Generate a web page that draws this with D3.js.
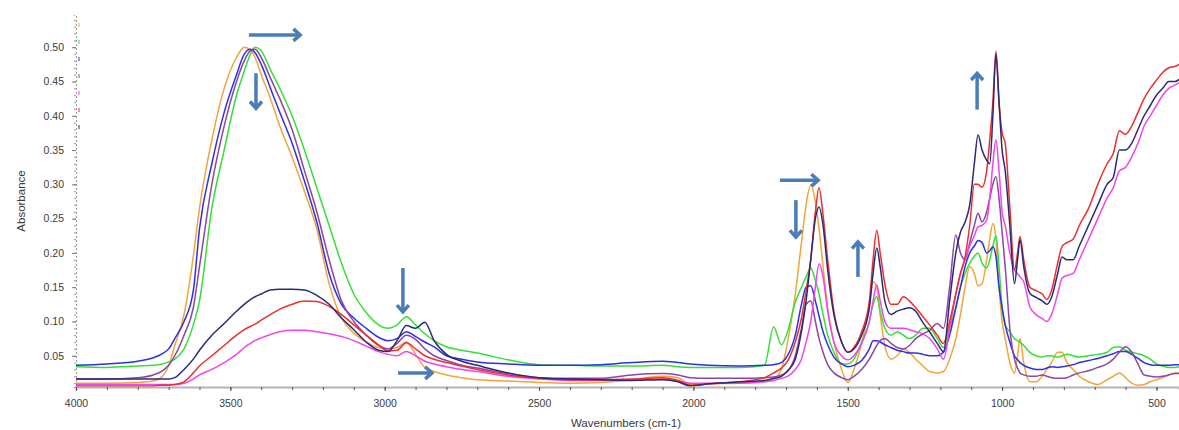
<!DOCTYPE html>
<html><head><meta charset="utf-8">
<script src="https://cdn.jsdelivr.net/npm/d3@7"></script>
<style>
body{margin:0;background:#fff}
svg{display:block}
text{font-family:"Liberation Sans",Arial,sans-serif}
</style>
</head><body>
<svg id="chart" width="1179" height="430"></svg>
<script>
// ---- data ----
const wavenumbers = [
 4000,3900,3800,3750,3720,3700,3680,3650,3620,3600,
 3560,3520,3480,3455,3435,3420,3400,3370,3340,3300,
 3260,3220,3180,3140,3100,3060,3020,2990,2960,2930,
 2900,2870,2840,2800,2750,2700,2600,2500,2400,2300,
 2200,2100,2050,2010,1950,1850,1770,1740,1715,1695,
 1670,1650,1635,1620,1605,1593,1580,1565,1545,1520,
 1500,1480,1455,1430,1418,1406,1395,1380,1360,1340,
 1320,1300,1280,1256,1235,1210,1190,1170,1150,1135,
 1120,1105,1090,1078,1065,1050,1040,1030,1020,1010,
 1000,990,975,960,950,942,930,910,890,870,
 855,840,820,806,790,770,750,720,690,660,
 640,620,600,580,560,540,520,500,480,460,
 440,427];

const orangeSeries = [
 0.010,0.010,0.011,0.013,0.020,0.035,0.065,0.110,0.195,0.265,
 0.365,0.440,0.485,0.500,0.496,0.485,0.460,0.425,0.385,0.340,
 0.290,0.235,0.155,0.105,0.083,0.070,0.062,0.060,0.062,0.070,
 0.052,0.033,0.027,0.022,0.018,0.015,0.013,0.011,0.010,0.011,
 0.015,0.020,0.018,0.008,0.009,0.010,0.012,0.016,0.030,0.070,
 0.140,0.215,0.270,0.299,0.275,0.235,0.180,0.120,0.070,0.030,
 0.011,0.030,0.068,0.125,0.158,0.150,0.110,0.065,0.045,0.050,
 0.060,0.055,0.045,0.035,0.027,0.025,0.027,0.045,0.075,0.110,
 0.150,0.180,0.170,0.152,0.155,0.190,0.220,0.243,0.220,0.150,
 0.100,0.075,0.040,0.025,0.050,0.075,0.040,0.012,0.012,0.020,
 0.030,0.040,0.055,0.055,0.040,0.030,0.020,0.012,0.008,0.015,
 0.020,0.025,0.018,0.010,0.007,0.008,0.012,0.015,0.018,0.022,
 0.025,0.025];

const greenSeries = [
 0.034,0.033,0.035,0.036,0.038,0.041,0.045,0.060,0.095,0.130,
 0.265,0.350,0.430,0.465,0.490,0.500,0.495,0.467,0.440,0.400,
 0.350,0.295,0.240,0.185,0.140,0.113,0.095,0.090,0.095,0.107,
 0.095,0.082,0.072,0.063,0.058,0.054,0.044,0.037,0.036,0.035,
 0.035,0.036,0.034,0.033,0.033,0.033,0.036,0.092,0.066,0.085,
 0.128,0.150,0.165,0.178,0.160,0.140,0.110,0.080,0.055,0.038,
 0.038,0.045,0.070,0.100,0.125,0.136,0.115,0.090,0.080,0.085,
 0.080,0.075,0.080,0.090,0.090,0.075,0.062,0.090,0.120,0.150,
 0.170,0.185,0.195,0.200,0.185,0.178,0.190,0.210,0.225,0.180,
 0.120,0.095,0.085,0.075,0.072,0.070,0.065,0.055,0.050,0.048,
 0.050,0.050,0.048,0.050,0.052,0.050,0.048,0.050,0.052,0.055,
 0.062,0.063,0.058,0.055,0.053,0.050,0.045,0.038,0.035,0.033,
 0.033,0.034];

const blueSeries = [
 0.036,0.038,0.042,0.047,0.053,0.060,0.075,0.100,0.145,0.235,
 0.330,0.405,0.460,0.490,0.497,0.492,0.475,0.440,0.405,0.360,
 0.305,0.245,0.170,0.125,0.105,0.090,0.077,0.072,0.075,0.085,
 0.078,0.070,0.063,0.050,0.045,0.041,0.038,0.036,0.036,0.037,
 0.040,0.042,0.040,0.038,0.036,0.035,0.036,0.037,0.040,0.050,
 0.080,0.125,0.150,0.152,0.130,0.108,0.085,0.066,0.048,0.038,
 0.034,0.036,0.043,0.060,0.072,0.072,0.070,0.066,0.062,0.058,
 0.056,0.054,0.054,0.052,0.050,0.050,0.055,0.080,0.120,0.150,
 0.180,0.200,0.210,0.218,0.215,0.200,0.203,0.209,0.195,0.150,
 0.120,0.095,0.070,0.050,0.044,0.040,0.036,0.032,0.030,0.030,
 0.032,0.034,0.033,0.034,0.035,0.037,0.040,0.043,0.046,0.050,
 0.053,0.056,0.056,0.052,0.046,0.040,0.037,0.036,0.036,0.036,
 0.037,0.037];

const violetSeries = [
 0.016,0.016,0.018,0.022,0.028,0.036,0.050,0.080,0.120,0.180,
 0.300,0.385,0.450,0.480,0.495,0.497,0.485,0.455,0.425,0.380,
 0.320,0.260,0.190,0.130,0.100,0.080,0.065,0.060,0.068,0.080,
 0.074,0.060,0.050,0.043,0.036,0.032,0.024,0.018,0.017,0.017,
 0.022,0.024,0.022,0.018,0.017,0.017,0.018,0.019,0.022,0.027,
 0.050,0.090,0.125,0.130,0.100,0.075,0.055,0.037,0.025,0.018,
 0.015,0.020,0.030,0.045,0.055,0.065,0.072,0.075,0.068,0.062,
 0.060,0.065,0.075,0.082,0.087,0.097,0.090,0.150,0.226,0.200,
 0.190,0.215,0.240,0.258,0.245,0.260,0.280,0.300,0.311,0.280,
 0.230,0.180,0.090,0.045,0.032,0.025,0.022,0.020,0.020,0.022,
 0.020,0.018,0.017,0.017,0.018,0.022,0.025,0.028,0.033,0.038,
 0.045,0.055,0.063,0.055,0.038,0.022,0.020,0.019,0.020,0.022,
 0.024,0.024];

const navySeries = [
 0.016,0.016,0.016,0.016,0.016,0.016,0.018,0.030,0.045,0.058,
 0.080,0.097,0.115,0.125,0.132,0.136,0.140,0.146,0.147,0.147,
 0.146,0.138,0.125,0.105,0.088,0.070,0.058,0.056,0.072,0.094,
 0.090,0.099,0.072,0.052,0.042,0.036,0.025,0.018,0.016,0.015,
 0.014,0.015,0.012,0.006,0.009,0.012,0.014,0.017,0.020,0.028,
 0.045,0.085,0.130,0.190,0.250,0.267,0.240,0.175,0.110,0.070,
 0.055,0.060,0.080,0.120,0.170,0.207,0.180,0.130,0.110,0.115,
 0.118,0.120,0.115,0.098,0.085,0.068,0.056,0.130,0.200,0.230,
 0.245,0.270,0.330,0.372,0.350,0.335,0.330,0.400,0.490,0.420,
 0.350,0.320,0.240,0.155,0.190,0.219,0.180,0.141,0.135,0.130,
 0.125,0.135,0.170,0.194,0.190,0.190,0.210,0.240,0.270,0.300,
 0.310,0.350,0.350,0.360,0.380,0.400,0.415,0.430,0.440,0.450,
 0.450,0.453];

const redSeries = [
 0.006,0.006,0.006,0.006,0.007,0.007,0.008,0.012,0.025,0.035,
 0.050,0.065,0.080,0.088,0.093,0.096,0.102,0.110,0.118,0.125,
 0.130,0.129,0.122,0.110,0.095,0.080,0.066,0.057,0.058,0.069,
 0.060,0.050,0.045,0.040,0.035,0.030,0.022,0.017,0.015,0.015,
 0.016,0.018,0.014,0.007,0.009,0.012,0.018,0.025,0.032,0.042,
 0.070,0.105,0.145,0.190,0.260,0.295,0.255,0.190,0.115,0.070,
 0.055,0.062,0.085,0.130,0.190,0.233,0.200,0.155,0.125,0.125,
 0.136,0.130,0.120,0.107,0.095,0.080,0.068,0.100,0.140,0.170,
 0.194,0.240,0.300,0.300,0.296,0.320,0.365,0.420,0.494,0.420,
 0.375,0.360,0.267,0.175,0.200,0.224,0.190,0.150,0.145,0.140,
 0.132,0.145,0.185,0.209,0.215,0.220,0.240,0.265,0.300,0.330,
 0.345,0.378,0.373,0.385,0.405,0.425,0.440,0.452,0.463,0.470,
 0.472,0.475];

const magentaSeries = [
 0.008,0.008,0.008,0.008,0.008,0.008,0.008,0.010,0.016,0.022,
 0.030,0.040,0.052,0.062,0.068,0.072,0.076,0.081,0.085,0.087,
 0.087,0.085,0.082,0.078,0.072,0.064,0.056,0.052,0.050,0.056,
 0.050,0.042,0.038,0.034,0.030,0.027,0.020,0.016,0.014,0.014,
 0.015,0.016,0.013,0.010,0.010,0.010,0.012,0.014,0.017,0.020,
 0.030,0.045,0.070,0.100,0.150,0.184,0.165,0.115,0.070,0.050,
 0.044,0.050,0.068,0.100,0.130,0.153,0.130,0.100,0.090,0.090,
 0.090,0.088,0.085,0.082,0.075,0.060,0.045,0.090,0.140,0.170,
 0.190,0.210,0.225,0.238,0.240,0.248,0.280,0.330,0.365,0.320,
 0.260,0.240,0.200,0.175,0.170,0.165,0.158,0.121,0.110,0.104,
 0.100,0.110,0.140,0.163,0.167,0.170,0.190,0.220,0.250,0.280,
 0.295,0.320,0.325,0.340,0.360,0.385,0.400,0.415,0.430,0.440,
 0.445,0.448];

const seriesNames  = ["orange","green","blue","violet","magenta","red","navy"];
const seriesColors = ["#f3a33a","#35e035","#2f2fe6","#8c45a8","#ee45ee","#ee2e2e","#2a2a78"];
const seriesValues = [orangeSeries,greenSeries,blueSeries,violetSeries,magentaSeries,redSeries,navySeries];

const yTickValues = [0.05,0.10,0.15,0.20,0.25,0.30,0.35,0.40,0.45,0.50];
const xTickValues = [4000,3500,3000,2500,2000,1500,1000,500];
const xAxisTitle = "Wavenumbers (cm-1)";
const yAxisTitle = "Absorbance";

// annotation arrows in data coordinates: [wStart, aStart, wEnd, aEnd]
const arrowData = [
 [3440,0.518,3274,0.518],
 [3417,0.462,3417,0.411],
 [2941,0.178,2941,0.114],
 [2957,0.025,2847,0.025],
 [1720,0.306,1596,0.306],
 [1668,0.277,1668,0.223],
 [1467,0.165,1467,0.216],
 [1081,0.409,1081,0.462]
];

(function draw(){
const svg = d3.select("#chart");
const pL = 76, pR = 1179, pT = 15, pB = 387;
const x = d3.scaleLinear().domain([4000, 427]).range([pL, pR]);
const y = d3.scaleLinear().domain([0.0044, 0.547]).range([pB, pT]);

svg.append("defs").append("clipPath").attr("id","plotclip")
  .append("rect").attr("x",pL).attr("y",pT).attr("width",pR-pL).attr("height",pB-pT);

// y axis minor ticks
const yMinor = d3.range(1, 55).map(i => i/100);
svg.append("g").attr("transform",`translate(${pL},0)`)
  .call(d3.axisLeft(y).tickValues(yMinor).tickSize(2).tickFormat(""))
  .call(g => g.select(".domain").attr("stroke","#999").attr("stroke-dasharray","2,2"))
  .call(g => g.selectAll(".tick line").attr("stroke","#999"));

// y axis major
svg.append("g").attr("transform",`translate(${pL},0)`)
  .call(d3.axisLeft(y).tickValues(yTickValues).tickSize(4).tickPadding(8).tickFormat(d3.format(".2f")))
  .call(g => g.select(".domain").remove())
  .call(g => g.selectAll(".tick line").attr("stroke","#777"))
  .call(g => g.selectAll(".tick text").attr("fill","#3a3a3a").style("font-size","10.5px"));

// lines
const line = d3.line()
  .x((d,i) => x(wavenumbers[i]))
  .y(d => y(d))
  .curve(d3.curveMonotoneX);

const plot = svg.append("g").attr("clip-path","url(#plotclip)");
seriesValues.forEach((vals, k) => {
  plot.append("path")
    .datum(vals)
    .attr("fill","none")
    .attr("stroke", seriesColors[k])
    .attr("stroke-width", 1.5)
    .attr("stroke-linejoin","round")
    .attr("d", line);
});

// small legend remnants near the y axis
svg.append("g").selectAll("line")
  .data(seriesColors)
  .join("line")
  .attr("x1", pL+3).attr("x2", pL+3)
  .attr("y1", (d,i) => 23 + i*17).attr("y2", (d,i) => 27 + i*17)
  .attr("stroke", d => d).attr("stroke-width", 1);

// x axis minor ticks
const xMinor = d3.range(500, 4001, 100);
svg.append("g").attr("transform",`translate(0,${pB})`)
  .call(d3.axisBottom(x).tickValues(xMinor).tickSize(3).tickFormat(""))
  .call(g => g.select(".domain").attr("stroke","#b3b3b3").attr("stroke-width",2))
  .call(g => g.selectAll(".tick line").attr("stroke","#555"));

svg.append("g").attr("transform",`translate(0,${pB})`)
  .call(d3.axisBottom(x).tickValues(xTickValues).tickSize(4).tickPadding(9).tickFormat(d3.format("d")))
  .call(g => g.select(".domain").remove())
  .call(g => g.selectAll(".tick line").attr("stroke","#555"))
  .call(g => g.selectAll(".tick text").attr("fill","#3a3a3a").style("font-size","10.5px"));

// titles
svg.append("text").attr("x", 626).attr("y", 427).attr("text-anchor","middle")
  .attr("fill","#3a3a3a").style("font-size","11.5px").text(xAxisTitle);
svg.append("text").attr("transform","translate(25,201) rotate(-90)").attr("text-anchor","middle")
  .attr("fill","#3a3a3a").style("font-size","11.5px").text(yAxisTitle);

// arrows
const arrowColor = "#4a7cb8";
const ag = svg.append("g").attr("stroke", arrowColor).attr("stroke-width", 3.5).attr("fill","none")
  .attr("stroke-linecap","butt").attr("stroke-linejoin","miter");
arrowData.forEach(a => {
  const x1 = x(a[0]), y1 = y(a[1]), x2 = x(a[2]), y2 = y(a[3]);
  const ang = Math.atan2(y2 - y1, x2 - x1);
  const L = 9, spread = Math.PI * 0.23;
  ag.append("line").attr("x1", x1).attr("y1", y1)
    .attr("x2", x2 - Math.cos(ang)*1.5).attr("y2", y2 - Math.sin(ang)*1.5);
  const p1 = [x2 - L*Math.cos(ang - spread), y2 - L*Math.sin(ang - spread)];
  const p2 = [x2 - L*Math.cos(ang + spread), y2 - L*Math.sin(ang + spread)];
  ag.append("path").attr("d", `M${p1[0]},${p1[1]}L${x2},${y2}L${p2[0]},${p2[1]}`);
});
})();
</script>
</body></html>
